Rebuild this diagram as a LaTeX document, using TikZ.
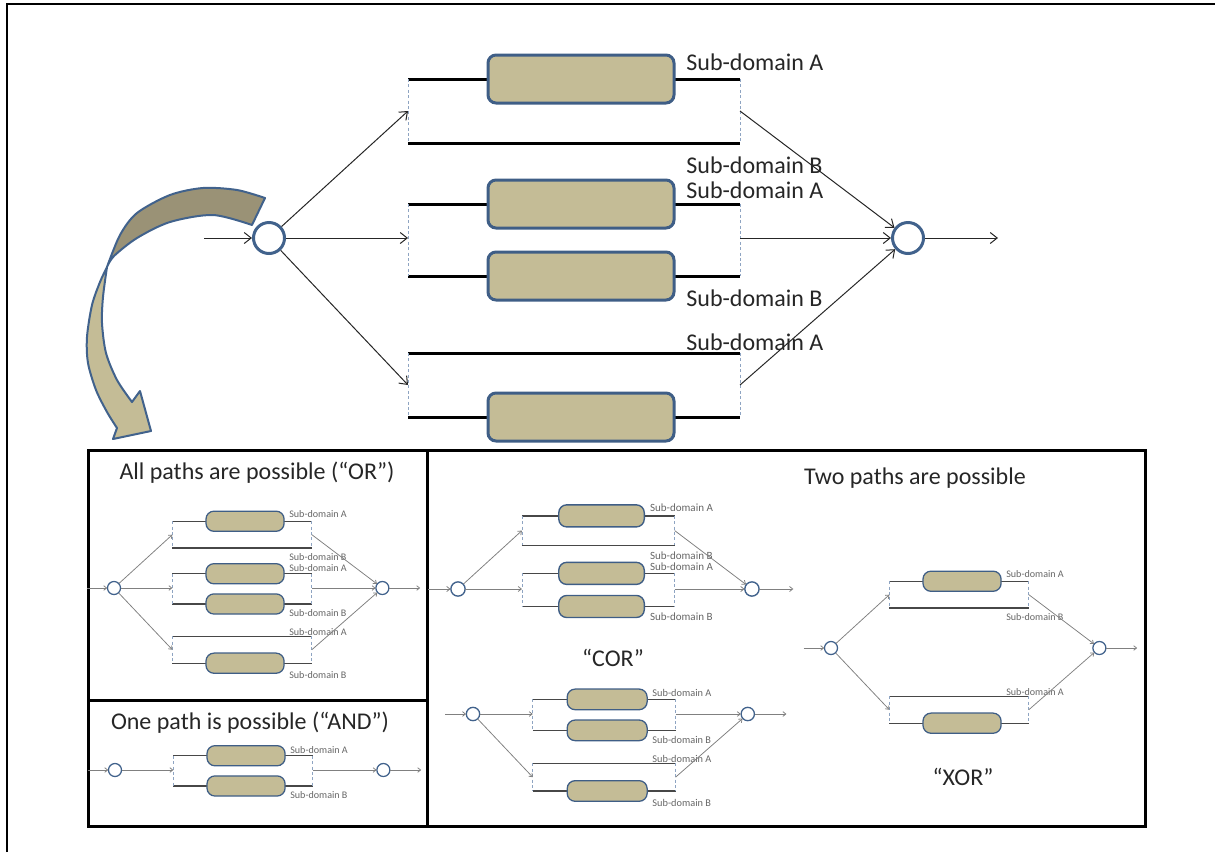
\documentclass[tikz,border=0pt]{standalone}
\usepackage{fontspec}
\setmainfont{Carlito}
\usetikzlibrary{arrows.meta}
\definecolor{boxfill}{HTML}{C4BC96}
\definecolor{boxline}{HTML}{3F5E86}
\definecolor{circline}{HTML}{41628C}
\definecolor{dashc}{HTML}{8EA4C2}
\definecolor{darkband}{HTML}{9A9276}
\definecolor{lightband}{HTML}{C4BC96}
\def\LS{1}
\def\thkc{black}
\def\thinc{black!85}
\def\labc{black!85}
\tikzset{
  thk/.style={line width=1.5pt*\LS, draw=\thkc},
  arr/.style={line width=0.5pt*(0.6+0.4*\LS), draw=\thinc, -{Straight Barb[length=3.5pt,width=5.5pt,scale=\LS]}},
  dsh/.style={line width=0.45pt*(0.6+0.4*\LS), draw=dashc, dash pattern=on 1.5pt off 1.2pt},
  ubox/.style={rectangle, rounded corners=4pt, minimum width=93pt, minimum height=24pt, fill=boxfill, draw=boxline, line width=1.5pt*\LS, inner sep=0pt},
  circ/.style={circle, minimum size=15.5pt, inner sep=0pt, fill=white, draw=circline, line width=1.5pt*\LS},
  lab/.style={font=\fontsize{12}{14}\selectfont, text=\labc, anchor=west, inner sep=0pt},
  ttl/.style={font=\fontsize{12}{14}\selectfont, text=black!85, inner sep=0pt},
}
% circles and in/out arrows
\newcommand\circs[1]{%
  \node[circ] (#1i) at (0,0) {};
  \node[circ] (#1o) at (639,0) {};
  \coordinate (#1s) at (-65,0);
  \coordinate (#1e) at (729,0);
  \draw[arr] (#1s) -- (#1i);
  \draw[arr] (#1o) -- (#1e);}
% top group
\newcommand\gtop[1]{%
  \draw[thk] (139,-159) -- (471,-159);
  \draw[thk] (139,-95) -- (471,-95);
  \draw[dsh] (139,-159) -- (139,-95);
  \draw[dsh] (471,-159) -- (471,-95);
  \node[ubox] (#1tb) at (312,-159) {};
  \node[lab] (#1ta) at (417,-176) {Sub-domain A};
  \node[lab] (#1tB) at (417,-73) {Sub-domain B};
  \coordinate (#1tl) at (139,-127);
  \coordinate (#1tr) at (471,-127);
  \draw[arr] (#1i) -- (#1tl);
  \draw[arr] (#1tr) -- (#1o);}
% middle group
\newcommand\gmid[1]{%
  \draw[thk] (139,-34) -- (471,-34);
  \draw[thk] (139,38) -- (471,38);
  \draw[dsh] (139,-34) -- (139,38);
  \draw[dsh] (471,-34) -- (471,38);
  \node[ubox] (#1mb) at (312,-34) {};
  \node[ubox] (#1mc) at (312,38) {};
  \node[lab] (#1ma) at (417,-48) {Sub-domain A};
  \node[lab] (#1mB) at (417,60) {Sub-domain B};
  \coordinate (#1ml) at (139,0);
  \coordinate (#1mr) at (471,0);
  \draw[arr] (#1i) -- (#1ml);
  \draw[arr] (#1mr) -- (#1o);}
% bottom group
\newcommand\gbot[2]{%
  \draw[thk] (139,115) -- (471,115);
  \draw[thk] (139,179) -- (471,179);
  \draw[dsh] (139,115) -- (139,179);
  \draw[dsh] (471,115) -- (471,179);
  \node[ubox] (#1bb) at (312,179) {};
  \node[lab] (#1ba) at (417,104) {Sub-domain A};
  \ifnum#2=1 \node[lab] (#1bB) at (417,207) {Sub-domain B};\fi
  \coordinate (#1bl) at (139,147);
  \coordinate (#1br) at (471,147);
  \draw[arr] (#1i) -- (#1bl);
  \draw[arr] (#1br) -- (#1o);}
\newcommand\smallset{\def\thkc{black!72}\def\thinc{black!50}\def\labc{black!60}}
\begin{document}
\begin{tikzpicture}[x=0.5pt,y=-0.5pt]
\useasboundingbox (0,0) rectangle (1215,852);
% outer frame (top and left)
\draw[line width=1pt] (7,852) -- (7,4) -- (1215,4);

% main diagram
\begin{scope}[shift={(269,238)}]
  \def\LS{1}
  \circs{m}
  \gtop{m}
  \gmid{m}
  \gbot{m}{0}
\end{scope}

% curved block arrow
\filldraw[fill=darkband, draw=circline, line width=1pt, line join=round]
  plot[smooth] coordinates {(265,198) (237,190) (203,188) (170,195) (137,213) (120,235) (107,267)}
  -- plot[smooth] coordinates {(107,267) (114,256) (137,238) (170,222) (213,215) (252,225)}
  -- cycle;
\filldraw[fill=lightband, draw=circline, line width=1pt, line join=round]
  plot[smooth] coordinates {(107,267) (100,282) (92,305) (87,337) (88,363) (96,390) (107,412) (117,428)}
  -- (113,439) -- (151,431) -- (140,391)
  -- plot[smooth] coordinates {(132,402) (117,380) (106,353) (102,323) (103,297) (107,267)}
  -- cycle;

% bottom panels
\draw[line width=1.5pt] (88,450) rectangle (1145,826);
\draw[line width=1.5pt] (427,450) -- (427,826);
\draw[line width=1.5pt] (88,700) -- (427,700);

\node[ttl] (tor) at (257,473) {All paths are possible (“OR”)};
\node[ttl] (tand) at (250,723) {One path is possible (“AND”)};
\node[ttl] (ttwo) at (915,478) {Two paths are possible};
\node[ttl] (tcor) at (613,658) {“COR”};
\node[ttl] (txor) at (963,777) {“XOR”};

% OR
\begin{scope}[shift={(114,588)}, scale=0.42, transform shape]
  \def\LS{0.42}\smallset
  \circs{or}
  \gtop{or}
  \gmid{or}
  \gbot{or}{1}
\end{scope}
% AND
\begin{scope}[shift={(115,770)}, scale=0.42, transform shape]
  \def\LS{0.42}\smallset
  \circs{an}
  \gmid{an}
\end{scope}
% COR upper
\begin{scope}[shift={(458,589)}, scale=0.46, transform shape]
  \def\LS{0.46}\smallset
  \circs{ca}
  \gtop{ca}
  \gmid{ca}
\end{scope}
% COR lower
\begin{scope}[shift={(473,714)}, scale=0.43, transform shape]
  \def\LS{0.43}\smallset
  \circs{cb}
  \gmid{cb}
  \gbot{cb}{1}
\end{scope}
% XOR
\begin{scope}[shift={(831,648)}, scale=0.42, transform shape]
  \def\LS{0.42}\smallset
  \circs{xo}
  \gtop{xo}
  \gbot{xo}{0}
\end{scope}
\end{tikzpicture}
\end{document}
